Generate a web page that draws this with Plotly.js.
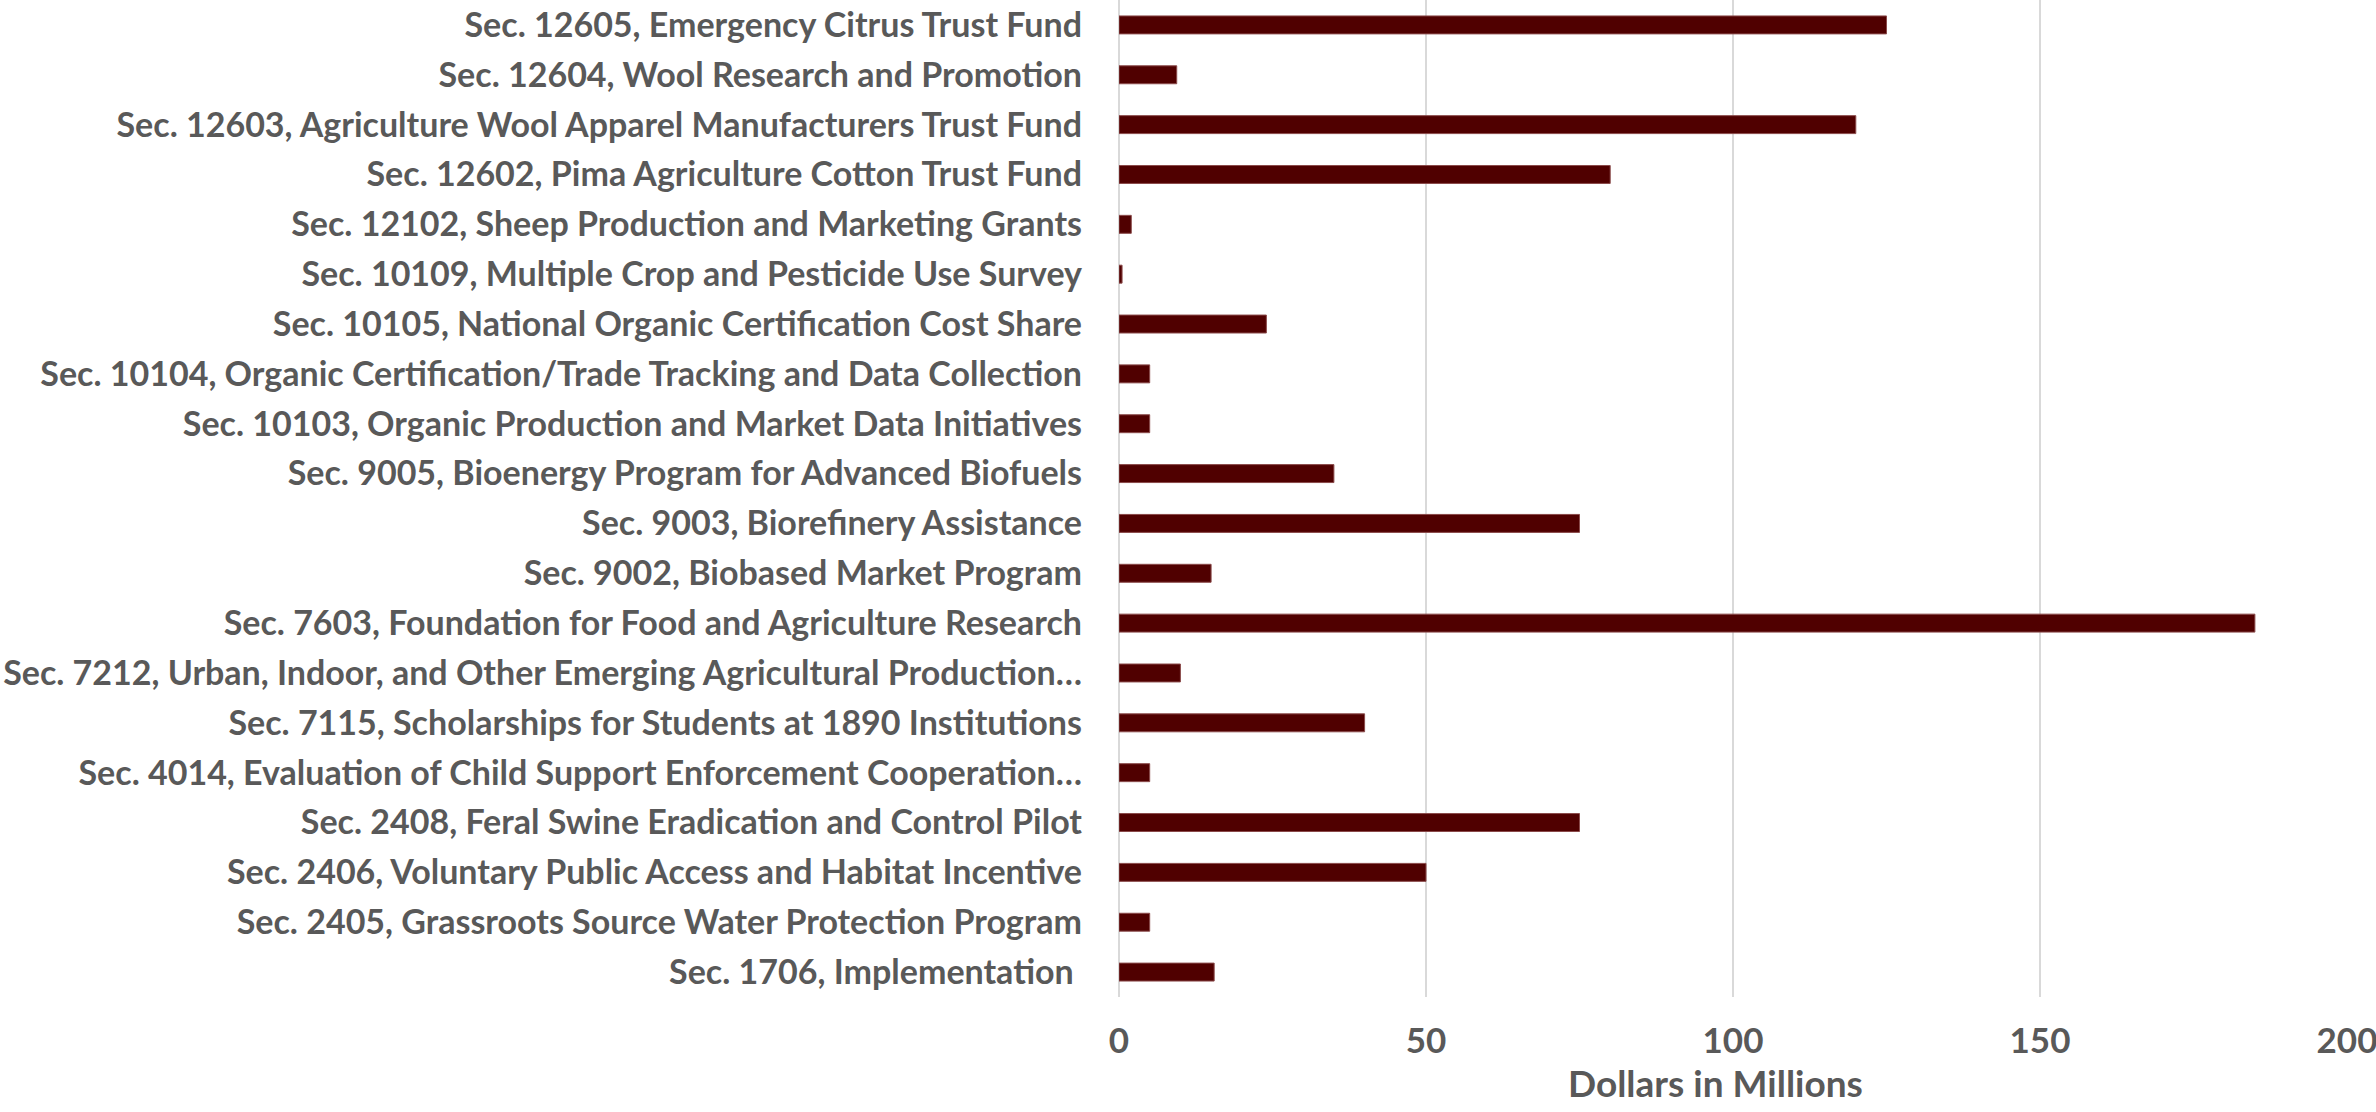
<!DOCTYPE html>
<html>
<head>
<meta charset="utf-8">
<script src="https://cdn.plot.ly/plotly-3.0.1.min.js"></script>
<style>html,body{margin:0;padding:0;background:#fff;}#chart{width:2376px;height:1112px;}</style>
</head>
<body>
<div id="chart"></div>
<script>
// Categories listed top to bottom as in the reference
const categories = [
  "Sec. 12605, Emergency Citrus Trust Fund",
  "Sec. 12604, Wool Research and Promotion",
  "Sec. 12603, Agriculture Wool Apparel Manufacturers Trust Fund",
  "Sec. 12602, Pima Agriculture Cotton Trust Fund",
  "Sec. 12102, Sheep Production and Marketing Grants",
  "Sec. 10109, Multiple Crop and Pesticide Use Survey",
  "Sec. 10105, National Organic Certification Cost Share",
  "Sec. 10104, Organic Certification/Trade Tracking and Data Collection",
  "Sec. 10103, Organic Production and Market Data Initiatives",
  "Sec. 9005, Bioenergy Program for Advanced Biofuels",
  "Sec. 9003, Biorefinery Assistance",
  "Sec. 9002, Biobased Market Program",
  "Sec. 7603, Foundation for Food and Agriculture Research",
  "Sec. 7212, Urban, Indoor, and Other Emerging Agricultural Production…",
  "Sec. 7115, Scholarships for Students at 1890 Institutions",
  "Sec. 4014, Evaluation of Child Support Enforcement Cooperation…",
  "Sec. 2408, Feral Swine Eradication and Control Pilot",
  "Sec. 2406, Voluntary Public Access and Habitat Incentive",
  "Sec. 2405, Grassroots Source Water Protection Program",
  "Sec. 1706, Implementation "
];
const dollarsMillions = [125, 9.4, 120, 80, 2, 0.5, 24, 5, 5, 35, 75, 15, 185, 10, 40, 5, 75, 50, 5, 15.5];
const xTickValues = [0, 50, 100, 150, 200];
const xTickLabels = ["0", "50", "100", "150", "200"];
const xAxisTitle = "Dollars in Millions";

const fontFam = "Lato, sans-serif";
const textColor = "#595959";

const trace = {
  type: "bar",
  orientation: "h",
  x: dollarsMillions,
  y: categories,
  marker: {color: "#500000", line: {color: "#8a4a4a", width: 1}},
  hoverinfo: "x+y"
};

const layout = {
  width: 2376,
  height: 1112,
  margin: {l: 1119, r: 29, t: 0, b: 115},
  paper_bgcolor: "#ffffff",
  plot_bgcolor: "#ffffff",
  bargap: 0.64,
  showlegend: false,
  font: {family: fontFam, color: textColor},
  xaxis: {
    range: [0, 200],
    tickvals: xTickValues,
    ticktext: xTickLabels,
    showgrid: true,
    gridcolor: "#d9d9d9",
    gridwidth: 2,
    zeroline: true,
    zerolinecolor: "#d9d9d9",
    zerolinewidth: 2,
    showline: false,
    ticks: "",
    ticklabelstandoff: 20,
    ticklabeloverflow: "allow",
    tickfont: {family: fontFam, size: 35, color: textColor, weight: "bold"},
    fixedrange: true
  },
  yaxis: {
    type: "category",
    autorange: "reversed",
    showgrid: false,
    zeroline: false,
    showline: false,
    ticks: "",
    ticklabelstandoff: 36,
    tickfont: {family: fontFam, size: 34, color: textColor, weight: "bold"},
    fixedrange: true
  },
  annotations: [{
    text: "<b>" + xAxisTitle + "</b>",
    xref: "paper", yref: "paper",
    x: 0.486, y: -0.0853,
    xanchor: "center", yanchor: "middle",
    showarrow: false,
    font: {family: fontFam, size: 37, color: textColor}
  }]
};

Plotly.newPlot("chart", [trace], layout, {displayModeBar: false, staticPlot: true});
</script>
</body>
</html>
